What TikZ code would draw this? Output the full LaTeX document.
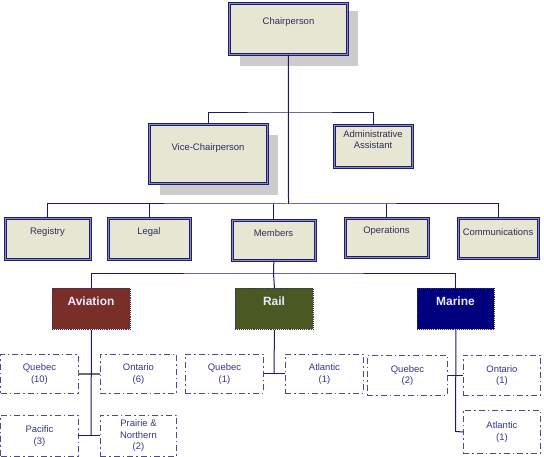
\documentclass[tikz,border=0pt]{standalone}
\usepackage{fontspec}
\setmainfont{Liberation Sans}
\definecolor{boxfill}{HTML}{E6E6D3}
\definecolor{boxline}{HTML}{1E1E6A}
\definecolor{boxband}{HTML}{8A8AC4}
\definecolor{shadowgray}{HTML}{CCCCCC}
\definecolor{txtcol}{HTML}{2E2E5E}
\definecolor{subline}{HTML}{4A4A96}
\definecolor{subtxt}{HTML}{35358A}
\definecolor{conncol}{HTML}{1A1A6A}
\definecolor{avcol}{HTML}{7A2E28}
\definecolor{railcol}{HTML}{4A5924}
\definecolor{marcol}{HTML}{00007F}
\definecolor{lvlline}{HTML}{3A2F5A}
\begin{document}
\begin{tikzpicture}[x=1bp,y=-1bp,
  topbox/.style={draw=boxline, double=boxband, double distance=1.1bp, line width=0.7bp, fill=boxfill, inner sep=0pt, anchor=north west},
  shadowbox/.style={fill=shadowgray, draw=none, inner sep=0pt, anchor=north west},
  txt/.style={font=\fontsize{9.5}{11}\selectfont, text=txtcol, align=center, inner sep=0pt},
  subbox/.style={draw=subline, line width=0.9bp, dash pattern=on 6bp off 3bp on 1.5bp off 3bp, inner sep=0pt, anchor=north west, font=\fontsize{9.5}{11.5}\selectfont, text=subtxt, align=center},
  lvlbox/.style={draw=lvlline, line width=0.9bp, densely dotted, inner sep=0pt, anchor=north west},
  lvltxt/.style={font=\bfseries\fontsize{12}{14}\selectfont, text=white!92!blue, inner sep=0pt},
  conn/.style={draw=conncol, line width=1bp},
  gconn/.style={draw=gray!85!black, line width=1.6bp}
]
\useasboundingbox (0,0) rectangle (544,457);
% shadows
\node[shadowbox, minimum width=118bp, minimum height=55bp] (chairS) at (240,11) {};
\node[shadowbox, minimum width=118bp, minimum height=60bp] (viceS) at (160,135) {};
% top boxes
\node[topbox, minimum width=118bp, minimum height=51bp] (chair) at (229,3) {};
\node[txt] (chairT) at (288.5,22) {Chairperson};
\node[topbox, minimum width=118bp, minimum height=59bp] (vice) at (149,124) {};
\node[txt] (viceT) at (208,148) {Vice-Chairperson};
\node[topbox, minimum width=78bp, minimum height=42bp] (admin) at (334,125) {};
\node[txt] (adminT) at (373,140) {Administrative\\Assistant};
% departments
\node[topbox, minimum width=85bp, minimum height=41bp] (reg) at (5,218) {};
\node[txt] (regT) at (47.5,232) {Registry};
\node[topbox, minimum width=82bp, minimum height=41bp] (legal) at (108,218) {};
\node[txt] (legalT) at (149,232) {Legal};
\node[topbox, minimum width=83bp, minimum height=40bp] (mem) at (232,220) {};
\node[txt] (memT) at (273.5,233) {Members};
\node[topbox, minimum width=83bp, minimum height=39bp] (ops) at (345,218) {};
\node[txt] (opsT) at (386.5,231) {Operations};
\node[topbox, minimum width=80bp, minimum height=40bp] (comm) at (458,218) {};
\node[txt] (commT) at (498,232) {Communications};
% levels
\node[lvlbox, fill=avcol, minimum width=78bp, minimum height=41bp] (av) at (52,288) {};
\node[lvltxt] (avT) at (91,301) {Aviation};
\node[lvlbox, fill=railcol, minimum width=78bp, minimum height=41bp] (rail) at (235,288) {};
\node[lvltxt] (railT) at (274,301) {Rail};
\node[lvlbox, fill=marcol, minimum width=77bp, minimum height=41bp] (mar) at (417,288) {};
\node[lvltxt] (marT) at (455.5,301) {Marine};
% sub boxes
\node[subbox, minimum width=77bp, minimum height=39bp] (q10) at (0.5,354) {Quebec\\(10)};
\node[subbox, minimum width=76bp, minimum height=39bp] (on6) at (100,354) {Ontario\\(6)};
\node[subbox, minimum width=77bp, minimum height=41bp] (pac) at (0.5,415) {Pacific\\(3)};
\node[subbox, minimum width=76bp, minimum height=41bp] (pra) at (100,415) {Prairie \&\\Northern\\(2)};
\node[subbox, minimum width=78bp, minimum height=39bp] (q1) at (185,354) {Quebec\\(1)};
\node[subbox, minimum width=78bp, minimum height=39bp] (at1) at (285,354) {Atlantic\\(1)};
\node[subbox, minimum width=80bp, minimum height=40bp] (q2) at (367,355) {Quebec\\(2)};
\node[subbox, minimum width=77bp, minimum height=40bp] (on1) at (463,355) {Ontario\\(1)};
\node[subbox, minimum width=77bp, minimum height=43bp] (at1m) at (463,410) {Atlantic\\(1)};
% bus coordinates
\coordinate (bus1) at (288.5,113);
\coordinate (bus2) at (288.5,204);
\coordinate (bus3) at (273.5,273);
% connectors
\draw[conn] (chair.south) -- (bus2);
\draw[conn] (vice.north) |- (bus1) -| (admin.north);
\draw[conn] (reg.north) |- (bus2) -| (comm.north);
\draw[conn] (legal.north) -- (legal.north |- bus2);
\draw[conn] (mem.north) -- (mem.north |- bus2);
\draw[conn] (ops.north) -- (ops.north |- bus2);
\draw[conn] (mem.south) -- (bus3);
\draw[conn] (av.north) |- (bus3) -| (mar.north);
\draw[conn] (rail.north) -- (bus3);
% aviation
\coordinate (avJ1) at (91,373);
\coordinate (avJ2) at (91,435);
\draw[gconn] (q10.east) -- (on6.west);
\draw[conn] (av.south) -- (avJ2);
\draw[conn] (pac.east) -- (pra.west);
% rail
\coordinate (railJ) at (274,373);
\draw[conn] (rail.south) -- (railJ);
\draw[conn] (q1.east) -- (at1.west);
% marine
\coordinate (marJ2) at (455.5,431.5);
\draw[conn] (mar.south) -- (marJ2) -- (at1m.west);
\draw[conn] (q2.east) -- (on1.west);
\end{tikzpicture}
\end{document}
